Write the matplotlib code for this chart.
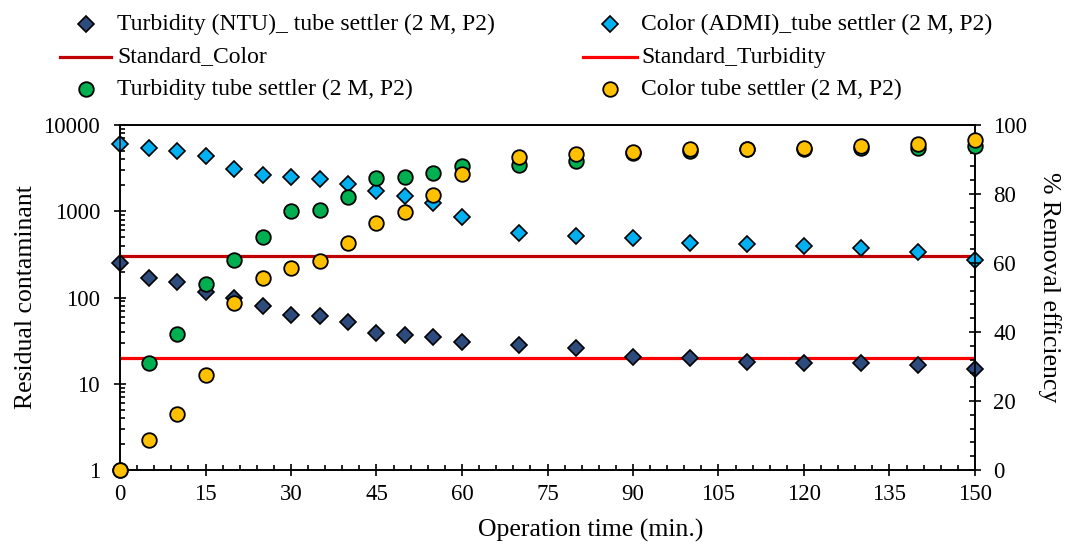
import matplotlib
matplotlib.use("Agg")
import matplotlib.pyplot as plt
from matplotlib.ticker import FixedLocator, MultipleLocator, NullFormatter, FixedFormatter
from matplotlib.lines import Line2D

# ---- data -------------------------------------------------------------
time_min = [0, 5, 10, 15, 20, 25, 30, 35, 40, 45, 50, 55, 60,
            70, 80, 90, 100, 110, 120, 130, 140, 150]

turbidity_ntu = [250, 170, 150, 115, 100, 80, 63, 61, 52, 39, 37, 35, 30.5,
                 28.5, 26, 20.3, 19.7, 17.7, 17.3, 17.3, 16.5, 14.8]

color_admi = [6000, 5400, 5000, 4400, 3100, 2650, 2500, 2350, 2070, 1700, 1500, 1240, 850,
              555, 510, 485, 425, 415, 395, 378, 335, 270]

turbidity_removal = [0, 31, 39.5, 54, 61, 67.5, 75, 75.5, 79, 84.5, 85, 86, 88,
                     88.5, 89.5, 92, 92.6, 93, 93, 93.2, 93.4, 94]

color_removal = [0, 8.7, 16.3, 27.4, 48.3, 55.7, 58.5, 60.7, 65.7, 71.5, 74.9, 79.7, 85.7,
                 90.8, 91.5, 92.1, 92.9, 93.0, 93.4, 93.9, 94.5, 95.7]

standard_color = 300
standard_turbidity = 20

x_ticks = [0, 15, 30, 45, 60, 75, 90, 105, 120, 135, 150]
left_ticks = [1, 10, 100, 1000, 10000]
left_tick_labels = ["1", "10", "100", "1000", "10000"]
right_ticks = [0, 20, 40, 60, 80, 100]

labels = {
    "ntu": "Turbidity (NTU)_ tube settler (2 M, P2)",
    "admi": "Color (ADMI)_tube settler (2 M, P2)",
    "std_color": "Standard_Color",
    "std_turb": "Standard_Turbidity",
    "turb_rm": "Turbidity tube settler (2 M, P2)",
    "color_rm": "Color tube settler (2 M, P2)",
}

# ---- styles -----------------------------------------------------------
NAVY = "#2E4B7D"
SKY = "#00B0F0"
GREEN = "#00B050"
GOLD = "#FFC000"
DARKRED = "#C00000"
RED = "#FF0000"

plt.rcParams['font.family'] = ['Liberation Serif', 'DejaVu Serif']

W, H = 1067, 545
fig = plt.figure(figsize=(W / 100, H / 100), dpi=100)
ax = fig.add_axes([120 / W, 75 / H, 855 / W, 345 / H])
ax2 = ax.twinx()

D_MS = 8.4
O_MS = 10.5
diamond = dict(ls='none', marker='D', ms=D_MS, mec='black', mew=1.2, clip_on=False)
circle = dict(ls='none', marker='o', ms=O_MS, mec='black', mew=1.3, clip_on=False)

t_span = [min(time_min), max(time_min)]
ax.plot(t_span, [standard_color] * 2, color=DARKRED, lw=2.3, zorder=2)
ax.plot(t_span, [standard_turbidity] * 2, color=RED, lw=2.3, zorder=2)
ax.plot(time_min, turbidity_ntu, mfc=NAVY, zorder=3, **diamond)
ax.plot(time_min, color_admi, mfc=SKY, zorder=3, **diamond)

ax2.plot(time_min, turbidity_removal, mfc=GREEN, zorder=3, **circle)
ax2.plot(time_min, color_removal, mfc=GOLD, zorder=4, **circle)

# ---- axes -------------------------------------------------------------
ax.set_xlim(0, 150)
ax.set_yscale('log')
ax.set_ylim(1, 10000)
ax2.set_ylim(0, 100)

ax.xaxis.set_major_locator(FixedLocator(x_ticks))
ax.xaxis.set_minor_locator(MultipleLocator(3))
ax.yaxis.set_major_locator(FixedLocator(left_ticks))
ax.yaxis.set_major_formatter(FixedFormatter(left_tick_labels))
ax.yaxis.set_minor_locator(FixedLocator([m * d for d in left_ticks[:-1] for m in range(2, 10)]))
ax.yaxis.set_minor_formatter(NullFormatter())
ax2.yaxis.set_major_locator(FixedLocator(right_ticks))
ax2.yaxis.set_minor_locator(MultipleLocator(4))

for a in (ax, ax2):
    for s in a.spines.values():
        s.set_linewidth(1.2)
        s.set_color('black')

ax.tick_params(axis='x', which='major', direction='inout', length=8.6, width=1.2,
               labelsize=16.5, pad=6)
ax.tick_params(axis='x', which='minor', direction='in', length=3.6, width=1.2)
ax.tick_params(axis='y', which='major', direction='inout', length=8.6, width=1.2,
               labelsize=16.5, pad=10)
ax.tick_params(axis='y', which='minor', direction='in', length=3.6, width=1.2)
ax2.tick_params(axis='y', which='major', direction='inout', length=8.6, width=1.2,
                labelsize=16.5, pad=9)
ax2.tick_params(axis='y', which='minor', direction='in', length=3.6, width=1.2)

fig.text(591 / W, 1 - 530 / H, "Operation time (min.)", fontsize=18.5, ha='center', va='center')
fig.text(26 / W, 1 - 297 / H, "Residual contaminant", fontsize=18.5, rotation=90,
         ha='center', va='center')
fig.text(1049 / W, 1 - 287 / H, "% Removal efficiency", fontsize=18.5, rotation=270,
         ha='center', va='center')

# ---- legend block above the plot ---------------------------------------
lax = fig.add_axes([0, 0, 1, 1], facecolor='none')
lax.set_xlim(0, W)
lax.set_ylim(H, 0)
lax.axis('off')

cols = [(60, 111, 117), (583, 637, 641)]
rows = [24, 57, 89]
entries = [
    (0, 0, 'marker', dict(marker='D', ms=D_MS, mfc=NAVY, mec='black', mew=1.2), labels["ntu"]),
    (1, 0, 'marker', dict(marker='D', ms=D_MS, mfc=SKY, mec='black', mew=1.2), labels["admi"]),
    (0, 1, 'line', dict(color=DARKRED, lw=2.3), labels["std_color"]),
    (1, 1, 'line', dict(color=RED, lw=2.3), labels["std_turb"]),
    (0, 2, 'marker', dict(marker='o', ms=O_MS, mfc=GREEN, mec='black', mew=1.3), labels["turb_rm"]),
    (1, 2, 'marker', dict(marker='o', ms=O_MS, mfc=GOLD, mec='black', mew=1.3), labels["color_rm"]),
]
for c, r, kind, style, text in entries:
    x0, x1, xt = cols[c]
    y = rows[r]
    if kind == 'line':
        lax.add_line(Line2D([x0, x1], [y, y], **style))
    else:
        lax.add_line(Line2D([(x0 + x1) / 2], [y], ls='none', **style))
    lax.text(xt, y, text, fontsize=17, ha='left', va='center')

fig.savefig("out.png", dpi=100)
